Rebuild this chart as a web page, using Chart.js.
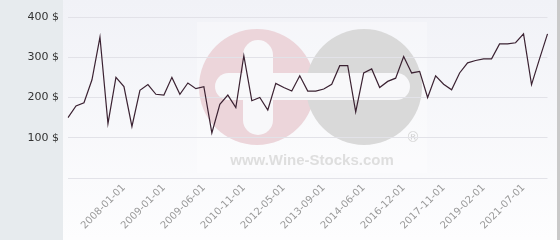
<!DOCTYPE html>
<html>
<head>
<meta charset="utf-8">
<script src="https://cdn.jsdelivr.net/npm/chart.js@4"></script>
<style>
  html, body { margin: 0; padding: 0; background: #ffffff; }
  #wrap { width: 560px; height: 240px; position: relative; }
</style>
</head>
<body>
<div id="wrap"><canvas id="priceChart"></canvas></div>
<script>
/* ---------- DATA ---------- */

// one entry per price observation; only the dates shown on the axis are known
const dates = [
  "", "", "", "", "", "", "", "2008-01-01", "", "",
  "", "", "2009-01-01", "", "", "", "", "2009-06-01", "", "",
  "", "", "2010-11-01", "", "", "", "", "2012-05-01", "", "",
  "", "", "2013-09-01", "", "", "", "", "2014-06-01", "", "",
  "", "", "2016-12-01", "", "", "", "", "2017-11-01", "", "",
  "", "", "2019-02-01", "", "", "", "", "2021-07-01", "", "",
  "",
];

const prices = [
  150, 179, 187, 244, 350, 135, 250, 227, 128, 218,
  232, 208, 206, 250, 208, 236, 222, 227, 112, 183,
  206, 175, 304, 192, 200, 169, 235, 225, 216, 254,
  216, 216, 221, 233, 279, 279, 164, 261, 271, 225,
  240, 248, 302, 261, 265, 200, 254, 233, 219, 261,
  286, 292, 296, 296, 333, 333, 336, 358, 232, 296,
  358,
];

const yTicks = [0, 100, 200, 300, 400];
const currency = "$";

/* ---------- BACKGROUND + WATERMARK ---------- */

const backdrop = {
  id: "backdrop",
  beforeDraw(chart) {
    const { ctx, width, height } = chart;
    ctx.save();

    // left panel
    ctx.fillStyle = "#e7ebee";
    ctx.fillRect(0, 0, 63, height);

    // content area
    const grad = ctx.createLinearGradient(0, 0, 0, height);
    grad.addColorStop(0, "#f1f2f7");
    grad.addColorStop(1, "#fdfdfe");
    ctx.fillStyle = grad;
    ctx.fillRect(63, 0, width - 66, height);

    // right border
    ctx.fillStyle = "#c9c9c9";
    ctx.fillRect(width - 3, 0, 3, height);

    // watermark backing
    ctx.fillStyle = "rgba(255,255,255,0.3)";
    ctx.fillRect(197, 22, 230, 151);

    // circles
    ctx.fillStyle = "#ecd5da";
    ctx.beginPath();
    ctx.arc(257, 87, 58, 0, Math.PI * 2);
    ctx.fill();
    ctx.fillStyle = "#d9d9d9";
    ctx.beginPath();
    ctx.arc(364, 87, 58, 0, Math.PI * 2);
    ctx.fill();

    // plus / minus bars
    ctx.fillStyle = "#f8f8fa";
    ctx.beginPath();
    ctx.roundRect(243, 40, 30, 95, 15);
    ctx.fill();
    ctx.beginPath();
    ctx.roundRect(215, 73, 195, 27, 13.5);
    ctx.fill();

    // text
    ctx.fillStyle = "#d4d4d4";
    ctx.font = "14px 'DejaVu Sans'";
    ctx.textAlign = "center";
    ctx.textBaseline = "middle";
    ctx.fillText("\u00AE", 413, 138);

    ctx.fillStyle = "#dedede";
    ctx.font = "bold 15px 'Liberation Sans'";
    ctx.fillText("www.Wine-Stocks.com", 312, 161);

    ctx.restore();
  },
};

/* ---------- CHART ---------- */

new Chart(document.getElementById("priceChart"), {
  type: "line",
  data: {
    labels: dates,
    datasets: [
      {
        data: prices,
        borderColor: "#3b2232",
        borderWidth: 1.2,
        pointRadius: 0,
        tension: 0,
        fill: false,
      },
    ],
  },
  options: {
    responsive: true,
    maintainAspectRatio: false,
    animation: false,
    layout: { padding: { top: 17, right: 6, bottom: 0, left: 0 } },
    plugins: {
      legend: { display: false },
      tooltip: { enabled: false },
    },
    scales: {
      x: {
        offset: false,
        grid: { display: false, drawTicks: false },
        border: { display: false },
        afterFit: (scale) => {
          scale.height = 62;
        },
        ticks: {
          autoSkip: false,
          maxRotation: 45,
          minRotation: 45,
          padding: 4,
          color: "#9a9a9a",
          font: { family: "DejaVu Sans", size: 10 },
        },
      },
      y: {
        min: yTicks[0],
        max: yTicks[yTicks.length - 1],
        grid: { color: "#e2e2e8", drawTicks: false },
        border: { display: false },
        afterFit: (scale) => {
          scale.width = 68;
        },
        ticks: {
          stepSize: 100,
          padding: 9,
          color: "#333333",
          font: { family: "DejaVu Sans", size: 11 },
          callback: (v) => (v === 0 ? "" : v + " " + currency),
        },
      },
    },
  },
  plugins: [backdrop],
});
</script>
</body>
</html>
